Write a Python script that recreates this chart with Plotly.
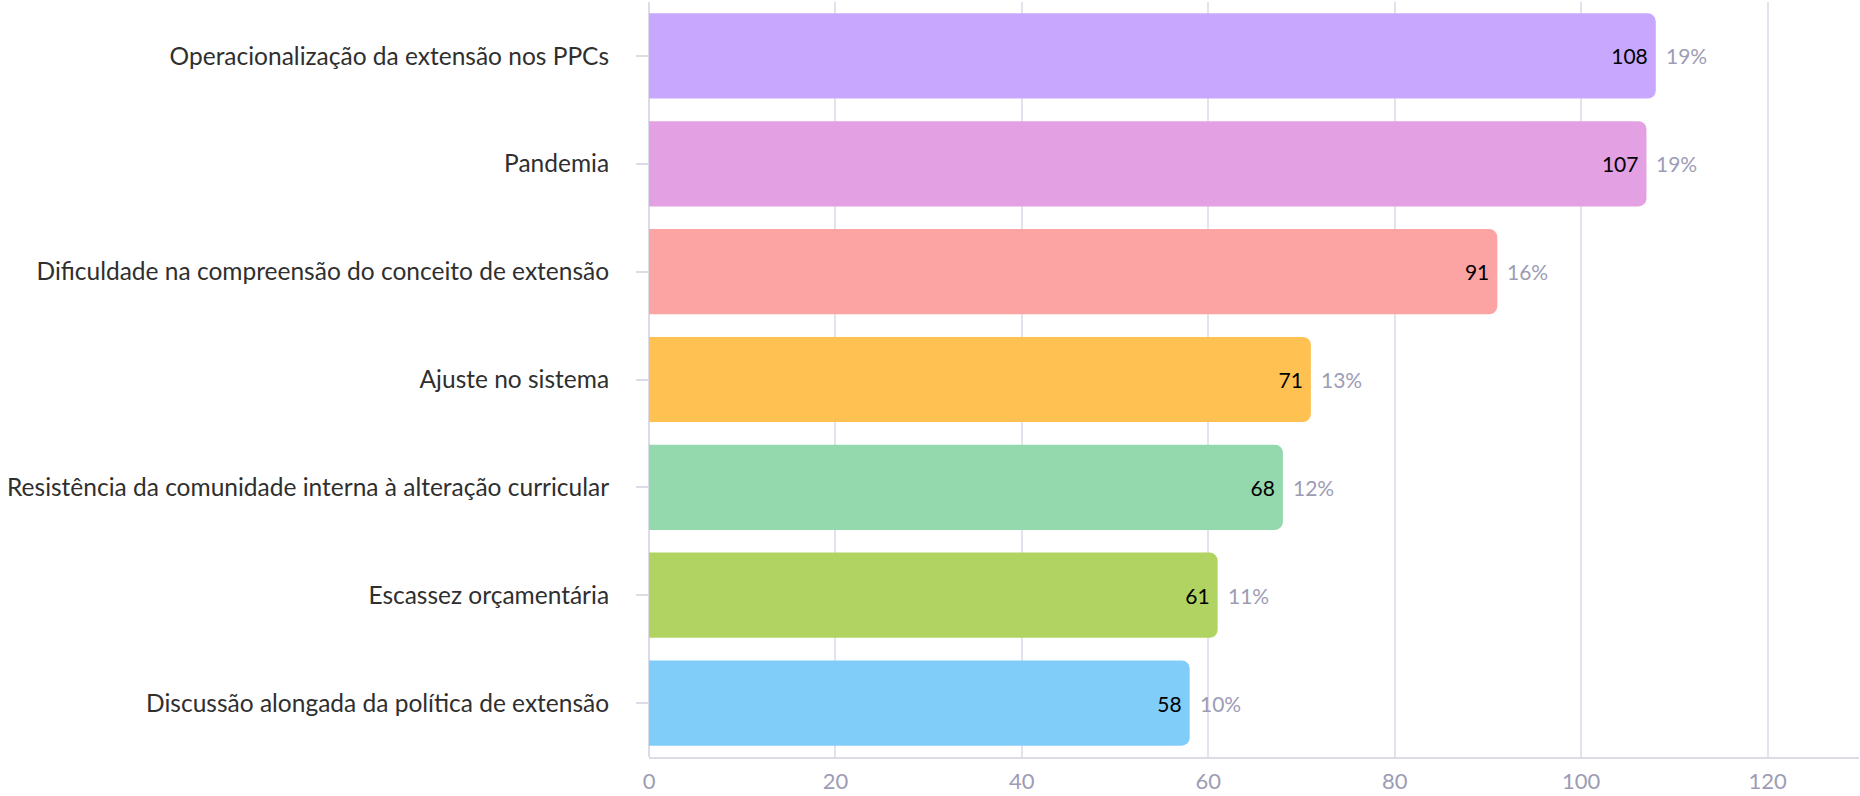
import plotly.graph_objects as go

categories = [
    "Operacionalização da extensão nos PPCs",
    "Pandemia",
    "Dificuldade na compreensão do conceito de extensão",
    "Ajuste no sistema",
    "Resistência da comunidade interna à alteração curricular",
    "Escassez orçamentária",
    "Discussão alongada da política de extensão",
]
values = [108, 107, 91, 71, 68, 61, 58]
percent_labels = ["19%", "19%", "16%", "13%", "12%", "11%", "10%"]
colors = ["#c8a8ff", "#e3a0e3", "#fca3a3", "#ffc152", "#94d9ad", "#b0d361", "#80cdf9"]
x_ticks = [0, 20, 40, 60, 80, 100, 120]

FONT = "Lato"

fig = go.Figure()
fig.add_trace(go.Bar(
    y=categories,
    x=values,
    orientation="h",
    marker=dict(color=colors, cornerradius=8, line=dict(width=0)),
    text=[str(v) for v in values],
    textposition="inside",
    insidetextanchor="end",
    textfont=dict(family=FONT, size=21, color="#000000"),
    constraintext="none",
    hoverinfo="skip",
))

for cat, v, p in zip(categories, values, percent_labels):
    fig.add_annotation(
        x=v, y=cat, text=p, showarrow=False,
        xanchor="left", yanchor="middle", xshift=8,
        font=dict(family=FONT, size=21, color="#9d9cb5"),
    )

fig.update_layout(
    width=1860, height=796,
    margin=dict(l=649, r=1, t=2, b=39),
    paper_bgcolor="white", plot_bgcolor="white",
    bargap=0.21,
    showlegend=False,
    font=dict(family=FONT),
)
fig.update_xaxes(
    range=[0, 129.8],
    tickvals=x_ticks,
    showgrid=True, gridcolor="#e3e3ee", gridwidth=1.5,
    zeroline=True, zerolinecolor="#dcdce8", zerolinewidth=2,
    showline=True, linecolor="#dcdce8", linewidth=2,
    ticks="", ticklabelstandoff=4,
    tickfont=dict(family=FONT, size=22, color="#9d9cb5"),
)
fig.update_yaxes(
    autorange="reversed",
    ticks="outside", ticklen=12, tickcolor="#dcdce8", tickwidth=2,
    ticklabelstandoff=22,
    tickfont=dict(family=FONT, size=24.5, color="#2f2f2f"),
    showgrid=False, showline=False,
)

fig.write_html(
    "out.html",
    config={"displayModeBar": False},
    post_script="document.body.style.margin='0';document.body.style.overflow='hidden';",
)
